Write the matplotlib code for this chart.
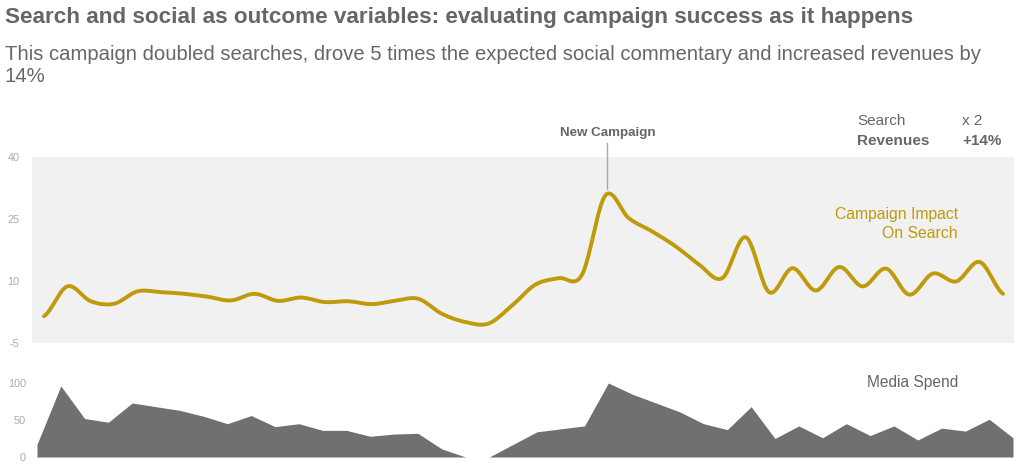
import numpy as np
import matplotlib
matplotlib.use("Agg")
import matplotlib.pyplot as plt

plt.rcParams['font.family'] = ['Liberation Sans', 'DejaVu Sans']
plt.rcParams['axes.unicode_minus'] = False

search = [1.5, 8.7, 5.1, 4.5, 7.5, 7.3, 6.9, 6.2, 5.3, 6.9, 5.2, 6.0, 4.9, 5.1,
          4.4, 5.2, 5.7, 2.1, 0.1, -0.3, 4.0, 9.1, 10.7, 11.5, 30.7, 25.2, 22.0,
          18.4, 14.0, 10.7, 20.6, 7.3, 13.1, 7.7, 13.4, 8.7, 13.0, 6.7, 11.8,
          9.9, 14.6, 6.9]
media = [17, 96, 52, 47, 73, 68, 63, 55, 45, 56, 41, 45, 36, 36, 28, 31, 32,
         11, 0, 0, 17, 34, 38, 42, 100, 85, 73, 61, 45, 37, 68, 25, 42, 26, 45,
         29, 42, 23, 39, 35, 51, 26]
search_ticks = [-5, 10, 25, 40]
media_ticks = [0, 50, 100]
campaign_idx = 24

W, H = 1024, 470
fig = plt.figure(figsize=(W / 100, H / 100), dpi=100)

GOLD = '#BF9A0A'
GRAY = '#707070'
TXT = '#666666'
TICK = '#AAAAAA'


def catmull(y, n=20):
    y = np.asarray(y, float)
    p = np.concatenate([[y[0]], y, [y[-1]]])
    xs, ys = [], []
    for i in range(len(y) - 1):
        p0, p1, p2, p3 = p[i], p[i + 1], p[i + 2], p[i + 3]
        t = np.linspace(0, 1, n, endpoint=False)
        m1 = (p2 - p0) / 2
        m2 = (p3 - p1) / 2
        h00 = 2 * t**3 - 3 * t**2 + 1
        h10 = t**3 - 2 * t**2 + t
        h01 = -2 * t**3 + 3 * t**2
        h11 = t**3 - t**2
        ys.append(h00 * p1 + h10 * m1 + h01 * p2 + h11 * m2)
        xs.append(i + t)
    xs.append([len(y) - 1])
    ys.append([y[-1]])
    return np.concatenate(xs), np.concatenate(ys)


def fx(px):
    return px / W


def fy(py):
    return 1 - py / H


# Top axes: background from x=32..1014, y=157..343
ax1 = fig.add_axes([fx(32), fy(343), fx(1014 - 32), (343 - 157) / H])
ax1.set_facecolor('#F1F1F1')
n = len(search)
x0, x1 = 44, 1003
step = (x1 - x0) / (n - 1)
left = -(x0 - 32) / step
right = (n - 1) + (1014 - x1) / step
ax1.set_xlim(left, right)
ax1.set_ylim(-5, 40)
xs, ys = catmull(search)
ax1.plot(xs, ys, color=GOLD, lw=2.8, solid_capstyle='round')
ax1.set_yticks(search_ticks)
ax1.set_xticks([])
ax1.tick_params(axis='y', length=0, labelsize=7.8, labelcolor=TICK, pad=9)
for s in ax1.spines.values():
    s.set_visible(False)

# Bottom axes: x=37..1013, y 0 at 457, 100 at 383
ax2 = fig.add_axes([fx(37), fy(457), fx(1013 - 37), (457 - 383) / H])
ax2.fill_between(np.arange(len(media)), media, 0, color=GRAY, lw=0)
ax2.set_xlim(0, len(media) - 1)
ax2.set_ylim(0, 100)
ax2.set_yticks(media_ticks)
ax2.set_xticks([])
ax2.tick_params(axis='y', length=0, labelsize=7.8, labelcolor=TICK, pad=8)
for s in ax2.spines.values():
    s.set_visible(False)

# Titles
fig.text(fx(5), fy(17), 'Search and social as outcome variables: evaluating campaign success as it happens',
         fontsize=16.2, fontweight='bold', color=TXT, va='center', ha='left')
fig.text(fx(5), fy(55), 'This campaign doubled searches, drove 5 times the expected social commentary and increased revenues by',
         fontsize=14.55, color=TXT, va='center', ha='left')
fig.text(fx(5), fy(77), '14%', fontsize=14.55, color=TXT, va='center', ha='left')

# New campaign annotation
cx = 32 + (campaign_idx - left) * step + 2
fig.text(fx(cx), fy(133), 'New Campaign', fontsize=9.6, fontweight='bold', color=TXT,
         ha='center', va='center')
fig.add_artist(plt.Line2D([fx(cx), fx(cx)], [fy(143), fy(189)], color='#AAAAAA', lw=1))

# Legend-ish text
fig.text(fx(857), fy(121), 'Search', fontsize=11, color=TXT, va='center', ha='left')
fig.text(fx(962), fy(121), 'x 2', fontsize=11, color=TXT, va='center', ha='left')
fig.text(fx(857), fy(141), 'Revenues', fontsize=11, fontweight='bold', color=TXT, va='center', ha='left')
fig.text(fx(962), fy(141), '+14%', fontsize=11, fontweight='bold', color=TXT, va='center', ha='left')

fig.text(fx(958), fy(215), 'Campaign Impact', fontsize=11.3, color=GOLD, va='center', ha='right')
fig.text(fx(958), fy(234), 'On Search', fontsize=11.3, color=GOLD, va='center', ha='right')
fig.text(fx(958), fy(382), 'Media Spend', fontsize=11.2, color=TXT, va='center', ha='right')

fig.savefig('out.png', dpi=100)
